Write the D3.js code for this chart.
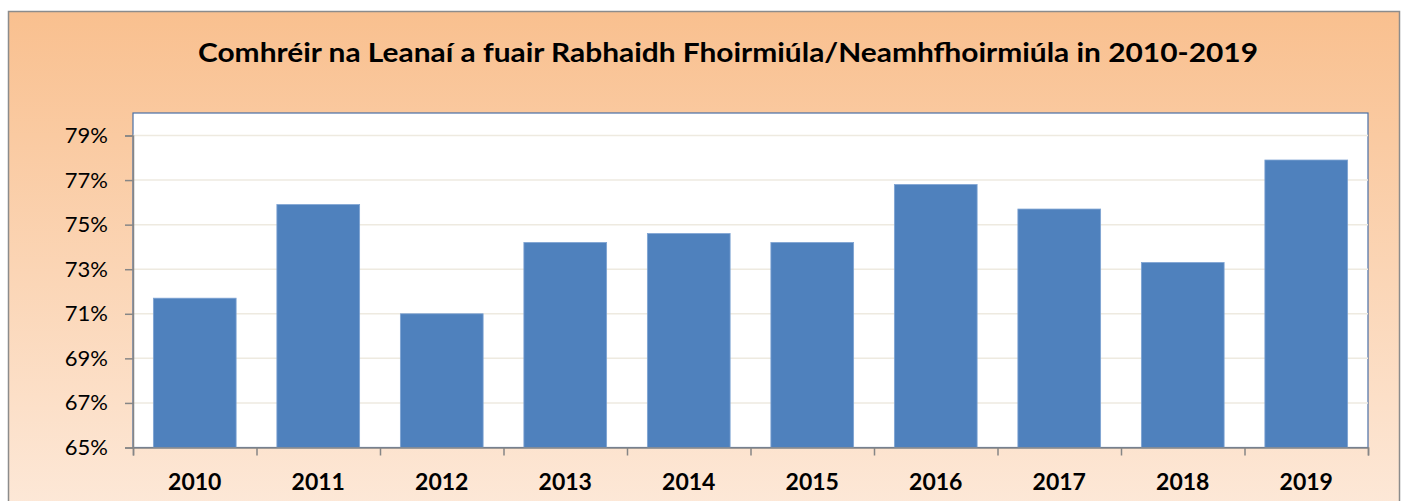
<!DOCTYPE html>
<html>
<head>
<meta charset="utf-8">
<script src="https://cdn.jsdelivr.net/npm/d3@7"></script>
<style>
  body { margin: 0; background: #fff; }
  svg text { font-family: Lato, "Open Sans", sans-serif; }
</style>
</head>
<body>
<div id="chart"></div>
<script>
// data
const years = ["2010", "2011", "2012", "2013", "2014", "2015", "2016", "2017", "2018", "2019"];
const shares = [71.7, 75.9, 71.0, 74.2, 74.6, 74.2, 76.8, 75.7, 73.3, 77.9];
const yTicks = [65, 67, 69, 71, 73, 75, 77, 79];
const title = "Comhréir na Leanaí a fuair Rabhaidh Fhoirmiúla/Neamhfhoirmiúla in 2010-2019";

const W = 1403, H = 501;
const plot = {left: 133, top: 113, right: 1368, bottom: 447.5};

var svg = d3.select("#chart")
  .append("svg")
    .attr("width", W)
    .attr("height", H);

// background gradient of the chart area
var defs = svg.append("defs");
var grad = defs.append("linearGradient")
  .attr("id", "bg")
  .attr("x1", 0).attr("y1", 0).attr("x2", 0).attr("y2", 1);
grad.append("stop").attr("offset", "0%").attr("stop-color", "#F9C08F");
grad.append("stop").attr("offset", "100%").attr("stop-color", "#FDEADB");

svg.append("rect")
  .attr("x", 8.5).attr("y", 11.5)
  .attr("width", 1391).attr("height", 520)
  .attr("fill", "url(#bg)")
  .attr("stroke", "#8C8C8C")
  .attr("stroke-width", 1.5);

svg.append("text")
  .attr("x", 728)
  .attr("y", 62)
  .attr("text-anchor", "middle")
  .style("font-size", "27px")
  .style("font-weight", "bold")
  .attr("textLength", 1060)
  .attr("lengthAdjust", "spacingAndGlyphs")
  .text(title);

// plot area
svg.append("rect")
  .attr("x", plot.left).attr("y", plot.top)
  .attr("width", plot.right - plot.left)
  .attr("height", plot.bottom - plot.top)
  .attr("fill", "white")
  .attr("stroke", "#4A6FA5")
  .attr("stroke-width", 1.2);

var x = d3.scaleBand()
  .domain(years)
  .range([plot.left, plot.right])
  .paddingInner(0.33)
  .paddingOuter(0.165);

var y = d3.scaleLinear()
  .domain([65, 79])
  .range([plot.bottom, 135.5]);

// gridlines
svg.append("g")
  .selectAll("line")
  .data(yTicks.slice(1))
  .enter()
  .append("line")
    .attr("x1", plot.left)
    .attr("x2", plot.right)
    .attr("y1", function(d) { return y(d); })
    .attr("y2", function(d) { return y(d); })
    .attr("stroke", "#EEEAE0")
    .attr("stroke-width", 1.5);

// bars
svg.append("g")
  .selectAll("rect")
  .data(shares)
  .enter()
  .append("rect")
    .attr("x", function(d, i) { return x(years[i]); })
    .attr("y", function(d) { return y(d); })
    .attr("width", x.bandwidth())
    .attr("height", function(d) { return plot.bottom - y(d); })
    .attr("fill", "#4F81BD")
    .attr("stroke", "#7EA3D3")
    .attr("stroke-width", 0.8);

// y axis
var yAxis = svg.append("g")
  .attr("transform", "translate(" + plot.left + ",0)")
  .call(d3.axisLeft(y)
    .tickValues(yTicks)
    .tickSize(8)
    .tickPadding(17)
    .tickFormat(function(d) { return d + "%"; }));
yAxis.select(".domain").attr("stroke", "#868686").attr("stroke-width", 1.5);
yAxis.selectAll(".tick line").attr("stroke", "#868686").attr("stroke-width", 1.5);
yAxis.selectAll("text")
  .style("font-size", "22px")
  .attr("fill", "#000");

// x axis with ticks between categories
var xEdges = d3.scaleLinear().domain([0, years.length]).range([plot.left, plot.right]);
var xAxis = svg.append("g")
  .attr("transform", "translate(0," + plot.bottom + ")")
  .call(d3.axisBottom(xEdges).ticks(years.length).tickSize(8).tickFormat(""));
xAxis.select(".domain").attr("stroke", "#868686").attr("stroke-width", 1.5);
xAxis.selectAll(".tick line").attr("stroke", "#868686").attr("stroke-width", 1.5);

svg.append("g")
  .selectAll("text")
  .data(years)
  .enter()
  .append("text")
    .attr("x", function(d) { return x(d) + x.bandwidth() / 2; })
    .attr("y", 490)
    .attr("text-anchor", "middle")
    .style("font-size", "23px")
    .style("font-weight", "bold")
    .text(function(d) { return d; });
</script>
</body>
</html>
